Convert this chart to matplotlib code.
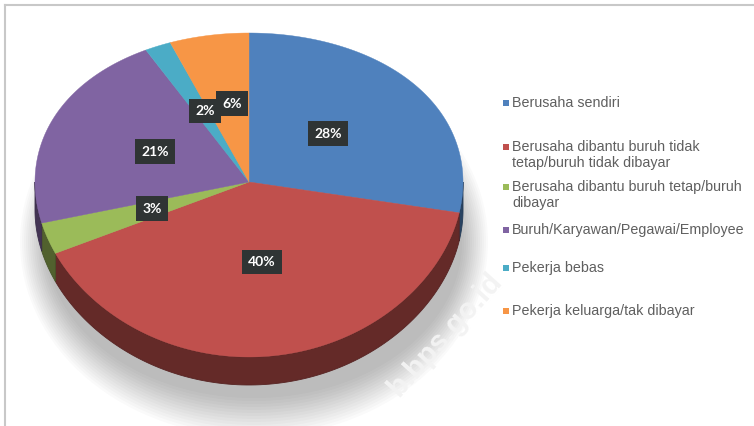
import numpy as np
import matplotlib.pyplot as plt
from matplotlib.patches import Polygon, Ellipse, Rectangle
from matplotlib.colors import to_rgb

# data
categories = [
    "Berusaha sendiri",
    "Berusaha dibantu buruh tidak\ntetap/buruh tidak dibayar",
    "Berusaha dibantu buruh tetap/buruh\ndibayar",
    "Buruh/Karyawan/Pegawai/Employee",
    "Pekerja bebas",
    "Pekerja keluarga/tak dibayar",
]
shares = [28, 40, 3, 21, 2, 6]
colors = ["#4F81BD", "#C0504D", "#9BBB59", "#8064A2", "#4BACC6", "#F79646"]

# layout (pixels)
W, H = 754, 426
CX, CY = 249, 182          # apex of the slices
RX = 214                   # horizontal radius
RY_TOP, RY_BOT = 149, 175  # perspective: near half looks taller
DEPTH = 28
LABEL_R = 0.48
label_nudge = {4: (0, -3), 5: (2, -5)}   # small slices, pulled apart
legend_y = [103, 155, 195, 230, 268, 311]


def to_px(u, v):
    # unit circle -> tilted pie in pixel coords (quadratic perspective)
    a = (RY_TOP + RY_BOT) / 2
    b = (RY_BOT - RY_TOP) / 2
    return CX + RX * u, CY - a * v + b * v ** 2


def darker(c, f):
    r, g, b = to_rgb(c)
    return (r * f, g * f, b * f)


fig = plt.figure(figsize=(W / 100, H / 100), dpi=100)
ax = fig.add_axes([0, 0, 1, 1])
ax.set_xlim(0, W)
ax.set_ylim(H, 0)
ax.axis("off")

# soft shadow under the pie
for i in range(14):
    ax.add_patch(Ellipse((CX + 5, CY + 60), 2 * RX + 40 - i * 4, 2 * RY_BOT + 40 - i * 6,
                         color="#000000", alpha=0.018, lw=0, zorder=0))

# watermark
ax.text(445, 335, "b.bps.go.id", rotation=48, ha="center", va="center",
        fontsize=21, fontweight="bold", color="#f3f3f3", family="Liberation Sans",
        zorder=0.5)

total = sum(shares)
bounds = 90 - 360 * np.concatenate([[0], np.cumsum(shares)]) / total

# side wall (only the near half, angles between -180 and 0)
for k, c in enumerate(colors):
    t1, t2 = bounds[k + 1], bounds[k]
    for off in (0, 360):
        lo, hi = max(t1 + off, -180), min(t2 + off, 0)
        if lo >= hi:
            continue
        t = np.radians(np.linspace(lo, hi, 120))
        xs, ys = to_px(np.cos(t), np.sin(t))
        top = list(zip(xs, ys))
        bot = list(zip(xs[::-1], ys[::-1] + DEPTH))
        ax.add_patch(Polygon(top + bot, closed=True, fc=darker(c, 0.52),
                             ec=darker(c, 0.45), lw=0.6, zorder=1))

# top face
for k, c in enumerate(colors):
    t = np.radians(np.linspace(bounds[k], bounds[k + 1], 200))
    xs, ys = to_px(np.cos(t), np.sin(t))
    pts = [(CX, CY)] + list(zip(xs, ys))
    ax.add_patch(Polygon(pts, closed=True, fc=c, ec=c, lw=0.3, zorder=2))

# value labels
for k, v in enumerate(shares):
    mid = np.radians((bounds[k] + bounds[k + 1]) / 2)
    lx, ly = to_px(LABEL_R * np.cos(mid), LABEL_R * np.sin(mid))
    dx, dy = label_nudge.get(k, (0, 0))
    ax.text(lx + dx, ly + dy, f"{v}%", ha="center", va="center", color="white",
            fontsize=10, fontweight="bold", family="Lato", zorder=5,
            bbox=dict(boxstyle="square,pad=0.45", fc="#2f3434", ec="none"))

# legend
for lab, c, y in zip(categories, colors, legend_y):
    n = lab.count("\n")
    ytop = y - 8 * n
    ax.add_patch(Rectangle((503, ytop - 3), 6, 6, fc=c, ec="none", zorder=5))
    ax.text(512, y, lab, ha="left", va="center", color="#5f5f5f",
            fontsize=10.3, family="Liberation Sans", linespacing=1.1, zorder=5)

# frame
ax.plot([5, W], [5, 5], color="#c8c8c8", lw=1.5, zorder=6)
ax.plot([5, 5], [5, H], color="#c8c8c8", lw=1.5, zorder=6)

fig.savefig("out.png", dpi=100)
